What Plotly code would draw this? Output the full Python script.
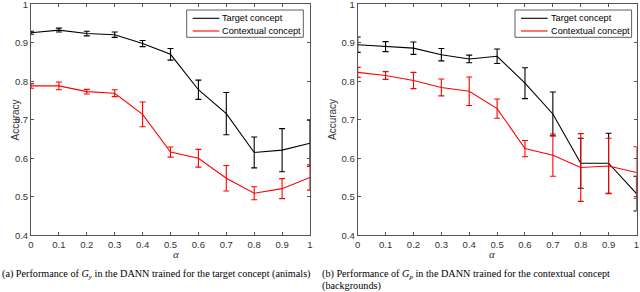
import plotly.graph_objects as go

alpha = [0, 0.1, 0.2, 0.3, 0.4, 0.5, 0.6, 0.7, 0.8, 0.9, 1.0]
xticks = [0, 0.1, 0.2, 0.3, 0.4, 0.5, 0.6, 0.7, 0.8, 0.9, 1]
xticklabels = ["0", "0.1", "0.2", "0.3", "0.4", "0.5", "0.6", "0.7", "0.8", "0.9", "1"]
yticks = [0.4, 0.5, 0.6, 0.7, 0.8, 0.9, 1.0]
yticklabels = ["0.4", "0.5", "0.6", "0.7", "0.8", "0.9", "1"]

# (a) G_y in DANN trained for target concept
a_target = [0.926, 0.933, 0.924, 0.921, 0.898, 0.870, 0.778, 0.716, 0.615, 0.621, 0.639]
a_target_err = [0.004, 0.005, 0.006, 0.007, 0.008, 0.015, 0.025, 0.055, 0.040, 0.056, 0.060]
a_context = [0.788, 0.788, 0.773, 0.769, 0.714, 0.616, 0.600, 0.548, 0.509, 0.521, 0.550]
a_context_err = [0.006, 0.010, 0.006, 0.009, 0.032, 0.013, 0.023, 0.033, 0.017, 0.026, 0.033]

# (b) G_p in DANN trained for contextual concept
b_target = [0.895, 0.890, 0.886, 0.869, 0.858, 0.865, 0.795, 0.715, 0.587, 0.587, 0.508]
b_target_err = [0.020, 0.013, 0.016, 0.016, 0.010, 0.019, 0.040, 0.057, 0.065, 0.078, 0.045]
b_context = [0.823, 0.815, 0.802, 0.784, 0.774, 0.729, 0.625, 0.608, 0.576, 0.580, 0.563]
b_context_err = [0.013, 0.010, 0.021, 0.022, 0.037, 0.025, 0.021, 0.055, 0.088, 0.072, 0.067]

series_names = ["Target concept", "Contextual concept"]
colors = ["#000000", "#ff0000"]

W, H = 640, 292
fig = go.Figure()

panels = [
    (a_target, a_target_err, a_context, a_context_err, "x", "y"),
    (b_target, b_target_err, b_context, b_context_err, "x2", "y2"),
]
for tv, te, cv, ce, xa, ya in panels:
    for vals, errs, name, col in [(tv, te, series_names[0], colors[0]), (cv, ce, series_names[1], colors[1])]:
        fig.add_trace(go.Scatter(
            x=alpha, y=vals, mode="lines", name=name, showlegend=False,
            line=dict(color=col, width=1.1),
            error_y=dict(type="data", array=errs, visible=True, color=col, thickness=1.1, width=3),
            xaxis=xa, yaxis=ya, cliponaxis=True,
        ))

def px2x(p):
    return p / W

def py2y(p):
    return 1 - p / H

ydom = [py2y(235.2), py2y(4.3)]
xdom1 = [px2x(31), px2x(310)]
xdom2 = [px2x(357.7), px2x(636.5)]

tickfont = dict(family="Liberation Sans, Arial, sans-serif", size=9.5, color="#333333")
axcommon = dict(
    showline=True, linecolor="#555555", linewidth=1, mirror="ticks",
    ticks="inside", ticklen=3, tickcolor="#555555", showgrid=False, zeroline=False,
    tickfont=tickfont, automargin=False, ticklabeloverflow="allow",
)
fig.update_layout(
    template="none",
    width=W, height=H, margin=dict(l=0, r=0, t=0, b=0, pad=0, autoexpand=False),
    paper_bgcolor="white", plot_bgcolor="white", showlegend=False,
    xaxis=dict(domain=xdom1, range=[0, 1], tickvals=xticks, ticktext=xticklabels, anchor="y", **axcommon),
    yaxis=dict(domain=ydom, range=[0.4, 1], tickvals=yticks, ticktext=yticklabels, anchor="x", **axcommon),
    xaxis2=dict(domain=xdom2, range=[0, 1], tickvals=xticks, ticktext=xticklabels, anchor="y2", **axcommon),
    yaxis2=dict(domain=ydom, range=[0.4, 1], tickvals=yticks, ticktext=yticklabels, anchor="x2", **axcommon),
)

serif = "Liberation Serif, Times New Roman, serif"
sans = "Liberation Sans, Arial, sans-serif"
ann = []
shapes = []
for cx, lx in [((31 + 310) / 2, 7), ((357.7 + 636.5) / 2, 332)]:
    ann.append(dict(x=px2x(cx), y=py2y(262), xref="paper", yref="paper", text="<i>α</i>",
                    yanchor="bottom", showarrow=False, font=dict(family=serif, size=11, color="#333333")))
    ann.append(dict(x=px2x(lx), y=py2y(120), xref="paper", yref="paper", text="Accuracy",
                    showarrow=False, textangle=-90, font=dict(family=sans, size=10, color="#333333")))

# legend boxes (one per panel)
for left in [186.7, 515.0]:
    right = left + 116.6
    shapes.append(dict(type="rect", xref="paper", yref="paper",
                       x0=px2x(left), x1=px2x(right), y0=py2y(37.3), y1=py2y(10),
                       line=dict(color="#333333", width=0.8), fillcolor="white", layer="above"))
    for name, col, yy in [(series_names[0], colors[0], 18.3), (series_names[1], colors[1], 31.0)]:
        shapes.append(dict(type="line", xref="paper", yref="paper",
                           x0=px2x(left + 6), x1=px2x(left + 32.6), y0=py2y(yy), y1=py2y(yy),
                           line=dict(color=col, width=1.1), layer="above"))
        ann.append(dict(x=px2x(left + 33.5), y=py2y(yy), xref="paper", yref="paper",
                        xanchor="left", yanchor="middle", text=name, showarrow=False,
                        font=dict(family=sans, size=9.2, color="#000")))

capfont = dict(family=serif, size=10.2, color="#000")
ann.append(dict(x=0, y=py2y(274.5), xref="paper", yref="paper", xanchor="left", yanchor="middle",
                text="(a) Performance of <i>G</i><sub><i>y</i></sub> in the DANN trained for the target concept (animals)",
                showarrow=False, font=capfont))
ann.append(dict(x=px2x(320), y=py2y(274.5), xref="paper", yref="paper", xanchor="left", yanchor="middle",
                text="(b) Performance of <i>G</i><sub><i>p</i></sub> in the DANN trained for the contextual concept",
                showarrow=False, font=capfont))
ann.append(dict(x=px2x(320), y=py2y(286), xref="paper", yref="paper", xanchor="left", yanchor="middle",
                text="(backgrounds)", showarrow=False, font=capfont))
fig.update_layout(annotations=ann, shapes=shapes)

fig.write_html("out.html", config={"displayModeBar": False, "staticPlot": True},
               post_script="document.body.style.margin='0';document.body.style.overflow='hidden';")
